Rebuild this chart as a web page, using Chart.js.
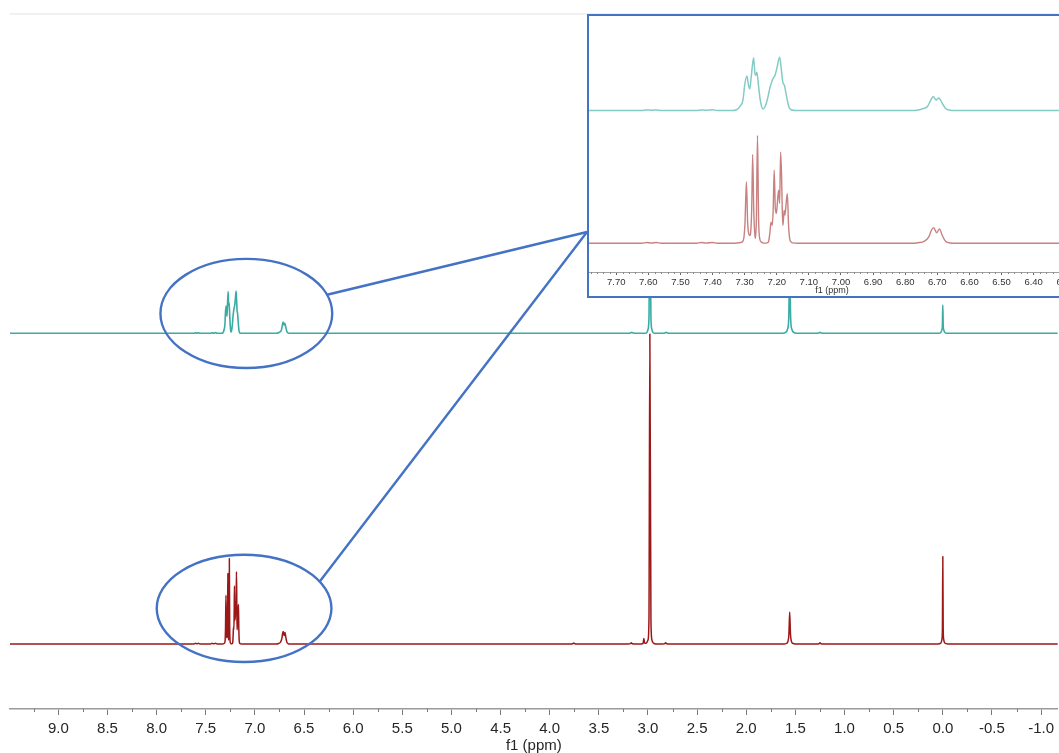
<!DOCTYPE html>
<html>
<head>
<meta charset="utf-8">
<title>1H NMR spectra, f1 (ppm)</title>
<script src="https://cdn.jsdelivr.net/npm/chart.js@4/dist/chart.umd.min.js"></script>
<style>
  html, body { margin: 0; padding: 0; background: #ffffff; overflow: hidden; }
  #wrap { position: relative; width: 1059px; height: 753px; overflow: hidden; }
  #main { position: absolute; left: 0; top: 0; }
  #insetBox {
    position: absolute; left: 587px; top: 14px; width: 492px; height: 284px;
    box-sizing: border-box; border: 2px solid #4472c4; background: #ffffff;
  }
  #inset { position: absolute; left: 0; top: 0; }
</style>
</head>
<body>
<div id="wrap">
  <canvas id="main" width="1059" height="753"></canvas>
  <div id="insetBox"><canvas id="inset" width="488" height="280"></canvas></div>
</div>
<script>
// ---- Spectrum data: [chemical shift (ppm), intensity] ----
// Upper trace (teal)
const topAromatic = [
  [7.62, 0], [7.605, 0.15], [7.59, 0.05], [7.575, 0.15], [7.56, 0],
  [7.45, 0], [7.435, 0.15], [7.42, 0.05], [7.40, 0.2], [7.385, 0],
  [7.34, 0], [7.325, 0.2], [7.315, 1.0], [7.305, 2.8], [7.300, 6.4], [7.293, 8.8],
  [7.288, 6.5], [7.284, 5.5], [7.279, 9.0], [7.272, 13.5], [7.268, 9.5], [7.265, 9.0],
  [7.262, 9.8], [7.257, 6.5], [7.252, 3.0], [7.247, 1.0], [7.243, 0.4], [7.237, 0.9],
  [7.232, 2.0], [7.227, 3.6], [7.222, 5.6], [7.217, 7.0], [7.212, 8.1], [7.205, 9.1],
  [7.200, 10.7], [7.191, 13.6], [7.186, 10.7], [7.181, 7.2], [7.176, 6.4], [7.170, 3.8],
  [7.162, 0.9], [7.155, 0.2], [7.14, 0]
];
const topOlefinic = [
  [6.78, 0], [6.76, 0.15], [6.747, 0.4], [6.731, 1.0], [6.72, 2.7], [6.713, 3.6],
  [6.704, 2.7], [6.695, 3.2], [6.685, 1.9], [6.675, 0.6], [6.664, 0.15], [6.64, 0]
];
const topAliphatic = [
  [3.20, 0], [3.18, 0.1], [3.165, 0.3], [3.15, 0.1], [3.12, 0],
  [3.03, 0], [3.01, 0.3], [3.0, 1.2], [2.99, 5], [2.981, 45], [2.97, 5], [2.96, 1.2], [2.95, 0.3], [2.93, 0],
  [2.85, 0], [2.83, 0.1], [2.815, 0.3], [2.80, 0.1], [2.78, 0],
  [1.63, 0], [1.60, 0.3], [1.58, 1.3], [1.568, 4.5], [1.558, 20], [1.548, 4.5], [1.536, 1.3], [1.516, 0.3], [1.49, 0],
  [1.29, 0], [1.265, 0.1], [1.25, 0.3], [1.235, 0.1], [1.21, 0],
  [0.04, 0], [0.02, 0.3], [0.009, 1.2], [0.004, 2.5], [0.0, 9.1], [-0.004, 2.5], [-0.009, 1.2], [-0.02, 0.3], [-0.04, 0]
];

// Lower trace (dark red)
const bottomAromatic = [
  [7.62, 0], [7.605, 0.2], [7.59, 0.05], [7.575, 0.2], [7.56, 0],
  [7.45, 0], [7.435, 0.2], [7.42, 0.05], [7.40, 0.2], [7.385, 0],
  [7.33, 0], [7.312, 0.2], [7.304, 0.8], [7.299, 5], [7.2945, 15.7], [7.2905, 5],
  [7.287, 2.4], [7.284, 2.0], [7.281, 3], [7.278, 9], [7.275, 22.7], [7.2715, 8],
  [7.268, 2], [7.266, 1.3], [7.2635, 6], [7.260, 27.6], [7.2565, 6], [7.253, 1.2],
  [7.248, 0.3], [7.24, 0.05], [7.23, 0.1], [7.225, 0.6], [7.221, 3], [7.218, 5.4],
  [7.214, 4.6], [7.211, 9], [7.208, 18.7], [7.2045, 9], [7.201, 7.7], [7.1975, 11],
  [7.194, 13.6], [7.191, 10.2], [7.188, 23.3], [7.185, 17.4], [7.183, 9], [7.181, 4.6],
  [7.179, 6.2], [7.177, 8.4], [7.1745, 7.2], [7.1705, 10.5], [7.167, 12.7], [7.1635, 5],
  [7.160, 1.3], [7.156, 0.4], [7.15, 0.1], [7.135, 0]
];
const bottomOlefinic = [
  [6.78, 0], [6.76, 0.15], [6.741, 0.5], [6.726, 1.7], [6.718, 3.4], [6.711, 4.0],
  [6.702, 2.7], [6.693, 3.7], [6.685, 2.1], [6.675, 0.6], [6.664, 0.15], [6.64, 0]
];
const bottomAliphatic = [
  [3.80, 0], [3.765, 0.1], [3.755, 0.35], [3.745, 0.1], [3.72, 0],
  [3.20, 0], [3.18, 0.1], [3.17, 0.4], [3.16, 0.1], [3.12, 0],
  [3.07, 0], [3.05, 0.2], [3.042, 1.8], [3.034, 0.2], [3.015, 0.3], [3.0, 1.3], [2.99, 8],
  [2.981, 100], [2.97, 8], [2.96, 1.3], [2.945, 0.3], [2.92, 0],
  [2.85, 0], [2.83, 0.1], [2.82, 0.4], [2.81, 0.1], [2.78, 0],
  [1.62, 0], [1.59, 0.2], [1.575, 0.9], [1.566, 3.2], [1.558, 10.3], [1.55, 3.2], [1.541, 0.9], [1.526, 0.2], [1.50, 0],
  [1.29, 0], [1.26, 0.1], [1.25, 0.4], [1.24, 0.1], [1.21, 0],
  [0.05, 0], [0.02, 0.3], [0.009, 1.5], [0.004, 5], [0.0, 28.2], [-0.004, 5], [-0.009, 1.5], [-0.02, 0.3], [-0.05, 0]
];

// Axis ticks (ppm)
const mainTicks = [9.0, 8.5, 8.0, 7.5, 7.0, 6.5, 6.0, 5.5, 5.0, 4.5, 4.0, 3.5, 3.0, 2.5, 2.0, 1.5, 1.0, 0.5, 0.0, -0.5, -1.0];
const insetTicks = [7.70, 7.60, 7.50, 7.40, 7.30, 7.20, 7.10, 7.00, 6.90, 6.80, 6.70, 6.60, 6.50, 6.40, 6.30];

// ---- Helpers ----
const FONT = "'Liberation Sans', Arial, Helvetica, sans-serif";
const BLUE = '#4472c4';

function spectrum(...parts) {
  const pts = [{ x: 9.6, y: 0 }];
  parts.forEach(p => p.forEach(([x, y]) => pts.push({ x, y })));
  pts.push({ x: -1.3, y: 0 });
  return pts;
}
const topTrace = spectrum(topAromatic, topOlefinic, topAliphatic);
const bottomTrace = spectrum(bottomAromatic, bottomOlefinic, bottomAliphatic);

function minorBetween(ticks, step) {
  const out = [];
  for (let i = 0; i < ticks.length; i++) out.push(ticks[i] + step / 2);
  out.push(ticks[ticks.length - 1] - step / 2);
  return out;
}

// Short minor tick marks under a bottom axis
const minorTickPlugin = {
  id: 'minorTicks',
  afterDraw(chart, args, opts) {
    if (!opts || !opts.values) return;
    const xs = chart.scales.x, ctx = chart.ctx;
    ctx.save();
    ctx.strokeStyle = opts.color; ctx.lineWidth = opts.width;
    opts.values.forEach(v => {
      if (v < xs.min || v > xs.max) return;
      const px = Math.round(xs.getPixelForValue(v)) + 0.5;
      ctx.beginPath(); ctx.moveTo(px, xs.top); ctx.lineTo(px, xs.top + opts.length); ctx.stroke();
    });
    ctx.restore();
  }
};

// Ellipses marking the aromatic region, and leader lines to the zoomed panel
const highlightPlugin = {
  id: 'highlights',
  afterDraw(chart, args, opts) {
    if (!opts || !opts.items) return;
    const ctx = chart.ctx, xs = chart.scales.x, area = chart.chartArea;
    ctx.save();
    ctx.strokeStyle = '#ededed'; ctx.lineWidth = 1.5;
    ctx.beginPath(); ctx.moveTo(area.left, area.top); ctx.lineTo(area.right, area.top); ctx.stroke();
    ctx.strokeStyle = BLUE; ctx.lineWidth = 2.4;
    opts.items.forEach(h => {
      const ys = chart.scales[h.axis];
      const cx = xs.getPixelForValue(h.ppm);
      const rx = Math.abs(xs.getPixelForValue(h.ppm + h.ppmHalfWidth) - cx);
      const cy = ys.getPixelForValue(h.level);
      const ry = Math.abs(ys.getPixelForValue(h.level + h.levelHalfHeight) - cy);
      ctx.beginPath(); ctx.ellipse(cx, cy, rx, ry, 0, 0, Math.PI * 2); ctx.stroke();
      const a = h.exitAngle * Math.PI / 180;
      ctx.beginPath();
      ctx.moveTo(cx + rx * Math.cos(a), cy - ry * Math.sin(a));
      ctx.lineTo(opts.anchor.x, opts.anchor.y);
      ctx.stroke();
    });
    ctx.restore();
  }
};

function traceDataset(data, axis, color, width) {
  return {
    data, yAxisID: axis, borderColor: color, borderWidth: width,
    pointRadius: 0, fill: false, cubicInterpolationMode: 'monotone', borderJoinStyle: 'round'
  };
}

// ---- Full spectrum ----
new Chart(document.getElementById('main'), {
  type: 'line',
  data: {
    datasets: [
      traceDataset(topTrace, 'yTop', '#3aaca4', 1.6),
      traceDataset(bottomTrace, 'yBottom', '#9c1717', 1.5)
    ]
  },
  plugins: [minorTickPlugin, highlightPlugin],
  options: {
    responsive: false, animation: false, events: [],
    layout: { padding: { left: 10, right: 0, top: 14, bottom: 0 }, autoPadding: false },
    plugins: {
      legend: { display: false }, tooltip: { enabled: false },
      minorTicks: { values: minorBetween(mainTicks, 0.5), length: 3, color: '#7a7a7a', width: 1 },
      highlights: {
        anchor: { x: 587, y: 232 },
        items: [
          { axis: 'yTop', ppm: 7.087, ppmHalfWidth: 0.874, level: 6.4, levelHalfHeight: 17.6, exitAngle: 20 },
          { axis: 'yBottom', ppm: 7.11, ppmHalfWidth: 0.889, level: 11.5, levelHalfHeight: 17.3, exitAngle: 30 }
        ]
      }
    },
    scales: {
      x: {
        type: 'linear', reverse: true, min: -1.1687, max: 9.4919,
        afterBuildTicks: s => { s.ticks = mainTicks.map(v => ({ value: v })); },
        afterFit: s => { s.height = 44; },
        ticks: {
          autoSkip: false, maxRotation: 0, padding: 5, color: '#262626',
          font: { family: FONT, size: 15 },
          callback: v => Number(v).toFixed(1)
        },
        grid: { drawOnChartArea: false, drawTicks: true, tickLength: 6, color: '#7a7a7a', lineWidth: 1 },
        border: { display: true, color: '#9a9a9a', width: 1.5 },
        title: {
          display: true, text: 'f1 (ppm)', color: '#262626',
          font: { family: FONT, size: 15 }, padding: { top: 0, bottom: -2 }
        }
      },
      yTop: { type: 'linear', display: false, min: -121.2, max: 103.0 },
      yBottom: { type: 'linear', display: false, min: -20.97, max: 203.2 }
    }
  }
});

// ---- Expanded aromatic region ----
new Chart(document.getElementById('inset'), {
  type: 'line',
  data: {
    datasets: [
      traceDataset(topTrace, 'yTop', '#84cbc6', 1.5),
      traceDataset(bottomTrace, 'yBottom', '#c98080', 1.4)
    ]
  },
  plugins: [minorTickPlugin],
  options: {
    responsive: false, animation: false, events: [],
    layout: { padding: 0, autoPadding: false },
    plugins: {
      legend: { display: false }, tooltip: { enabled: false },
      minorTicks: {
        values: [].concat(...insetTicks.map(t => [t - 0.02, t - 0.04, t - 0.06, t - 0.08, t + 0.02, t + 0.04, t + 0.06, t + 0.08])),
        length: 2, color: '#8a8a8a', width: 1
      }
    },
    scales: {
      x: {
        type: 'linear', reverse: true, min: 6.2706, max: 7.7847,
        afterBuildTicks: s => { s.ticks = insetTicks.map(v => ({ value: v })); },
        afterFit: s => { s.height = 24; },
        ticks: {
          autoSkip: false, maxRotation: 0, padding: 2, color: '#333333',
          font: { family: FONT, size: 9.5 },
          callback: v => Number(v).toFixed(2)
        },
        grid: { drawOnChartArea: false, drawTicks: true, tickLength: 3, color: '#666666', lineWidth: 1 },
        border: { display: true, color: '#a0a0a0', width: 1 },
        title: {
          display: true, text: 'f1 (ppm)', color: '#333333',
          font: { family: FONT, size: 9 }, padding: { top: 0, bottom: 0 }
        }
      },
      yTop: { type: 'linear', display: false, min: -41.3, max: 24.17 },
      yBottom: { type: 'linear', display: false, min: -7.34, max: 58.13 }
    }
  }
});
</script>
</body>
</html>
